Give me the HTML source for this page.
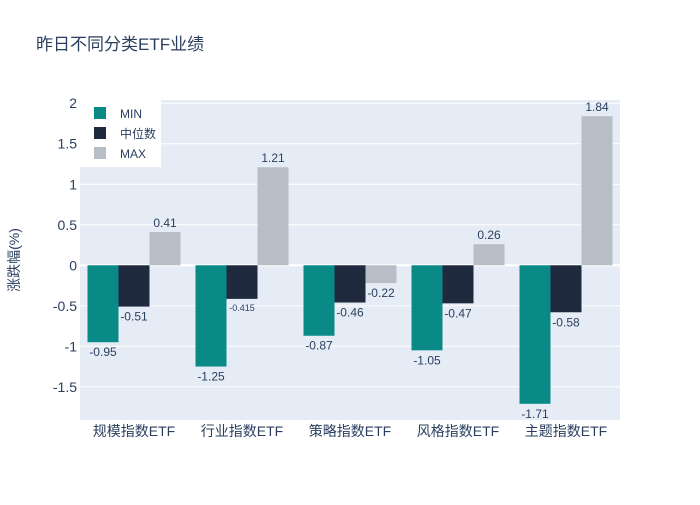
<!DOCTYPE html>
<html><head><meta charset="utf-8"><style>
body{margin:0;background:#fff;font-family:"Liberation Sans","Noto Sans CJK SC",sans-serif;}
svg text{font-family:"Liberation Sans","Noto Sans CJK SC",sans-serif;fill:#2a3f5f;}
</style></head><body>
<svg id="c" width="700" height="500">
<rect width="700" height="500" fill="#fff"/>
<text x="36" y="50" font-size="17">昨日不同分类ETF业绩</text>
<rect x="80" y="100" width="540" height="320" fill="#e5ecf6"/>
<g id="grid"></g><g id="bars"></g><g id="labels"></g>
<text transform="translate(19,260) rotate(-90)" text-anchor="middle" font-size="14">涨跌幅(%)</text>
<g>
<rect x="80" y="100" width="81" height="67" fill="#fff"/>
<rect x="94" y="107" width="12" height="12" fill="#0a8a87"/>
<text x="120" y="118" font-size="12">MIN</text>
<rect x="94" y="127" width="12" height="12" fill="#1f2a3e"/>
<text x="120" y="138" font-size="12">中位数</text>
<rect x="94" y="147" width="12" height="12" fill="#b8bec6"/>
<text x="120" y="158" font-size="12">MAX</text>
</g>
</svg>
<script>
const categories=["规模指数ETF","行业指数ETF","策略指数ETF","风格指数ETF","主题指数ETF"];
const minVals=[-0.95,-1.25,-0.87,-1.05,-1.71];
const medVals=[-0.51,-0.415,-0.46,-0.47,-0.58];
const maxVals=[0.41,1.21,-0.22,0.26,1.84];
const yTicks=[-1.5,-1,-0.5,0,0.5,1,1.5,2];
const NS="http://www.w3.org/2000/svg";
const x0=80,pw=540,yMin=-1.91,yMax=2.04,plotTop=100,plotBot=420;
const yS=v=>plotTop+(yMax-v)/(yMax-yMin)*(plotBot-plotTop);
function mk(t,a,p){const e=document.createElementNS(NS,t);for(const k in a)e.setAttribute(k,a[k]);document.getElementById(p).appendChild(e);return e;}
yTicks.forEach(t=>{
  const l=mk("line",{x1:x0,x2:x0+pw,y1:yS(t),y2:yS(t),stroke:"#fff","stroke-width":t===0?2:1},"grid");
  
  
  const tx=mk("text",{x:77,y:yS(t)+5,"text-anchor":"end","font-size":14},"grid");
  tx.textContent=String(t);
  
  
});
const series=[[minVals,"#0a8a87","min"],[medVals,"#1f2a3e","median"],[maxVals,"#b8bec6","max"]];
const cw=pw/categories.length,bw=31;
categories.forEach((c,i)=>{
  const cx=x0+cw*(i+0.5);
  const tl=mk("text",{x:cx,y:436,"text-anchor":"middle","font-size":14},"labels");
  tl.textContent=c;
  
  
  series.forEach((s,j)=>{
    const v=s[0][i],bx=cx-1.5*bw+j*bw;
    const r=mk("rect",{x:bx,y:Math.min(yS(v),yS(0)),width:bw,height:Math.abs(yS(v)-yS(0)),fill:s[1]},"bars");
    
    
    const small=String(v).length>5;
    const t=mk("text",{x:bx+bw/2,y:v>=0?yS(v)-5:yS(v)+(small?12:14),"text-anchor":"middle","font-size":small?9:12},"labels");
    t.textContent=v;
    
    
  });
});
</script>
</body></html>
